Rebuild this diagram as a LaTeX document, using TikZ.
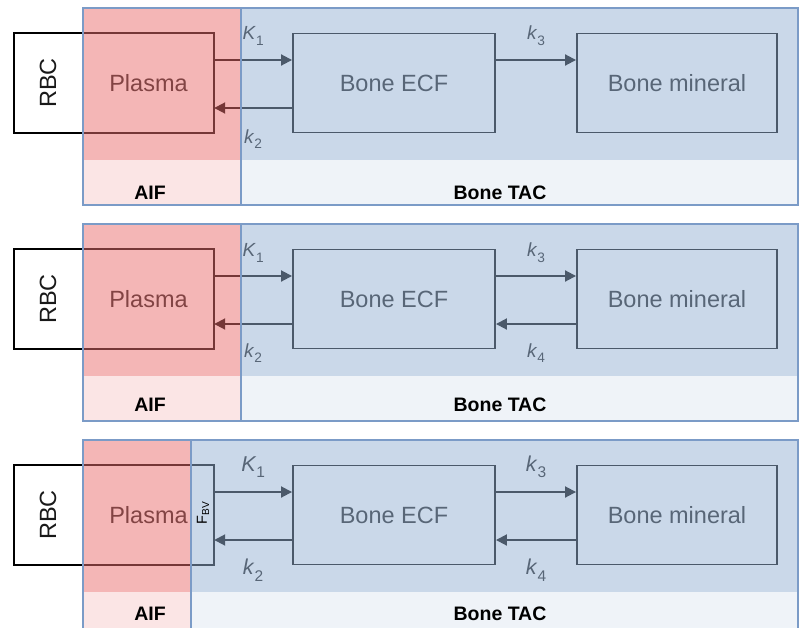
\documentclass[tikz,border=0pt]{standalone}
\usepackage{fontspec}
\setmainfont{Liberation Sans}
\usetikzlibrary{arrows.meta}
\definecolor{ovred}{RGB}{235,111,111}
\definecolor{ovblue}{RGB}{151,179,213}
\definecolor{framec}{RGB}{123,155,199}
\definecolor{ink}{RGB}{0,0,0}
\definecolor{txt}{RGB}{25,25,25}
\newcommand\ratesub[1]{\raisebox{-0.3em}{\scalebox{0.72}{#1}}}
\tikzset{
  cbox/.style={inner sep=0pt, minimum height=99pt, text=txt,
    font=\fontsize{23.5}{25}\selectfont},
  solidbox/.style={cbox, draw=ink, line width=1.9pt},
  edge/.style={draw=ink, line width=1.9pt},
  arr/.style={draw=ink, line width=1.9pt, -{Triangle[length=11pt,width=11pt]}},
  rate/.style={text=txt, inner sep=0pt},
  tag/.style={text=black, font=\bfseries\fontsize{19.5}{20}\selectfont, inner sep=0pt},
  panelframe/.style={draw=framec, line width=1.1pt},
}
\begin{document}
\begin{tikzpicture}[x=1pt, y=-1pt]
\useasboundingbox (0,0) rectangle (801,627);
\clip (0,0) rectangle (801,627);
\fill[white] (0,0) rectangle (801,627);
\foreach \n/\t/\d/\ly/\fs/\up/\dn in {1/8/241/193/19/24/31, 2/224/241/405/19/23/29, 3/440/191/614/21.5/25/30}{
  % underlying diagram
  \node[cbox, minimum width=68pt] (rbc\n) at (48,\t+75) {\rotatebox{90}{RBC}};
  \node[cbox, minimum width=131pt] (plasma\n) at (148.5,\t+75) {Plasma};
  \node[solidbox, minimum width=202pt] (ecf\n) at (394,\t+75) {Bone ECF};
  \node[solidbox, minimum width=200pt] (min\n) at (677,\t+75) {Bone mineral};
  \draw[edge, line join=miter] (rbc\n.north east) -- (rbc\n.north west) -- (rbc\n.south west) -- (rbc\n.south east);
  \draw[edge, line join=miter] (plasma\n.north west) -- (plasma\n.north east) -- (plasma\n.south east) -- (plasma\n.south west);
  \draw[ink!45, line width=1pt, dotted] (rbc\n.north east) -- (rbc\n.south east);
  \draw[arr] ([yshift=23pt]plasma\n.east) -- node[rate, font=\fontsize{\fs}{\fs}\selectfont, yshift=\up pt]{\textit{K}\ratesub{1}} ([yshift=23pt]ecf\n.west);
  \draw[arr] ([yshift=-25pt]ecf\n.west) -- node[rate, font=\fontsize{\fs}{\fs}\selectfont, yshift=-\dn pt]{\textit{k}\ratesub{2}} ([yshift=-25pt]plasma\n.east);
  \draw[arr] ([yshift=23pt]ecf\n.east) -- node[rate, font=\fontsize{\fs}{\fs}\selectfont, yshift=\up pt]{\textit{k}\ratesub{3}} ([yshift=23pt]min\n.west);
  \ifnum\n>1
    \draw[arr] ([yshift=-25pt]min\n.west) -- node[rate, font=\fontsize{\fs}{\fs}\selectfont, yshift=-\dn pt]{\textit{k}\ratesub{4}} ([yshift=-25pt]ecf\n.east);
  \fi
  % coloured overlays
  \fill[ovred, fill opacity=0.5] (83,\t) rectangle (\d,\t+152);
  \fill[ovred, fill opacity=0.18] (83,\t+152) rectangle (\d,\t+197);
  \fill[ovblue, fill opacity=0.5] (\d,\t) rectangle (798,\t+152);
  \fill[ovblue, fill opacity=0.15] (\d,\t+152) rectangle (798,\t+197);
  \draw[panelframe] (83,\t) rectangle (798,\t+197);
  \draw[panelframe] (\d,\t) -- (\d,\t+197);
  \node[tag] (aif\n) at (150,\ly) {AIF};
  \node[tag] (tac\n) at (500,\ly) {Bone TAC};
  \ifnum\n=3
    \node[rotate=90, text=ink, inner sep=0pt, font=\fontsize{14.5}{15}\selectfont] (fbv) at (203,513) {F\textsubscript{BV}};
  \fi
}
\end{tikzpicture}
\end{document}
